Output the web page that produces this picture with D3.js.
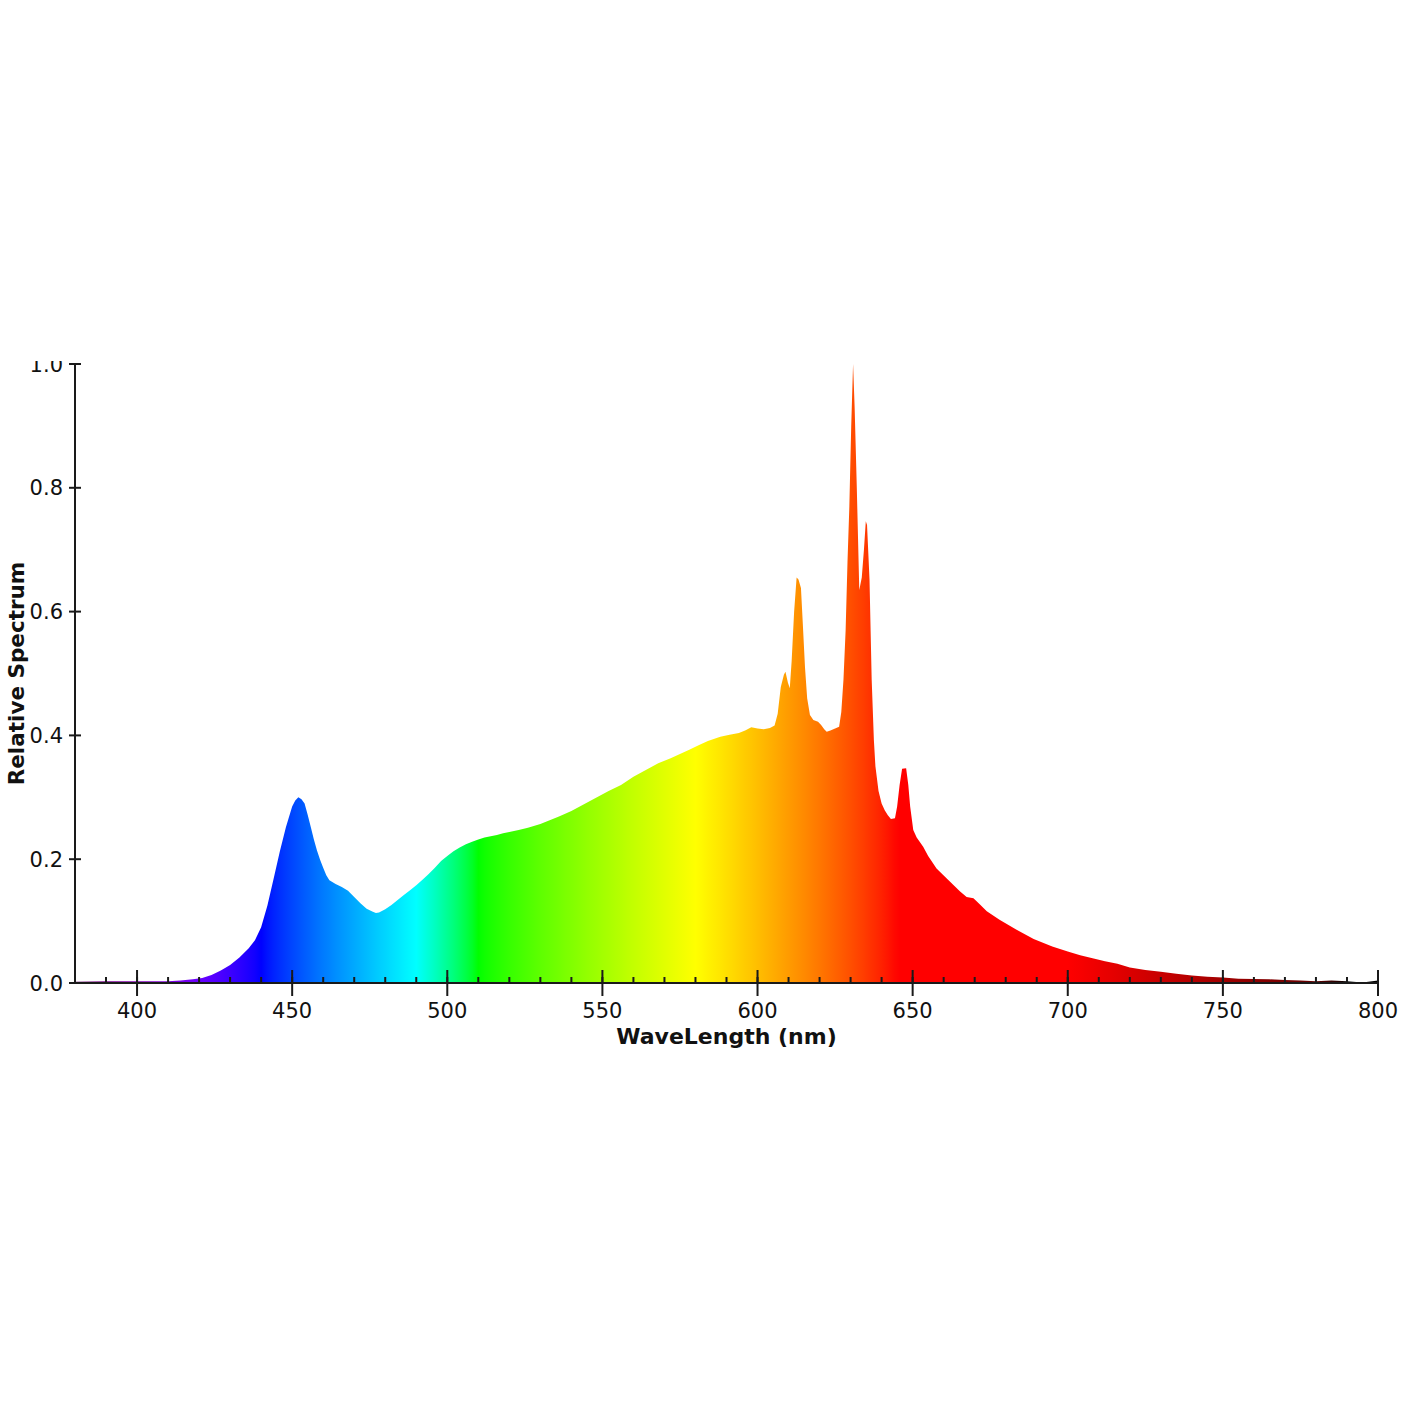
<!DOCTYPE html>
<html>
<head>
<meta charset="utf-8">
<script src="https://cdn.jsdelivr.net/npm/d3@7"></script>
<style>
  html, body { margin: 0; padding: 0; background: #fff; }
  svg { display: block; }
  text { font-family: "DejaVu Sans", Verdana, sans-serif; fill: #111; }
</style>
</head>
<body>
<svg id="chart" width="1420" height="1420"></svg>
<script>
// ---- data ----
const wavelengths = [
  380,385,390,395,400,405,410,414,418,421,424,427,430,433,436,438,440,442,444,446,448,450,451,452,453,454,455,456,457,458,459,460,461,462,464,466,468,470,472,474,476,477,478,480,482,484,486,488,490,492,494,496,498,500,502,504,506,508,510,512,514,516,518,520,523,526,530,533,536,540,543,546,549,552,556,560,564,568,572,575,578,581,584,588,591,594,596,598,600,602,604,605.5,606.5,607.5,608.5,609,609.8,610.4,611,611.8,612.6,613.2,614,614.6,615.3,616,616.9,618,619.5,620.5,621.5,622.3,623.5,625,626.3,627,627.7,628.4,629,629.6,630.2,630.8,631.3,632,632.8,633.6,634.3,634.9,635.3,636.1,636.8,637.5,638,639,640,641,642,643,644.3,645,645.8,646.6,647.9,648.6,649.2,650.2,651.3,653.4,655,657.7,661,665.3,667.4,669.6,671.7,673.9,678,683.5,689,695,700,704,708,712,716,720,725,730,735,740,745,750,755,760,765,770,775,780,785,790,795,800
];
const spectrum = [
  0.002,0.0025,0.003,0.003,0.003,0.003,0.003,0.004,0.006,0.008,0.013,0.020,0.029,0.041,0.056,0.069,0.090,0.125,0.168,0.212,0.252,0.285,0.295,0.300,0.297,0.290,0.272,0.252,0.232,0.214,0.199,0.186,0.174,0.166,0.160,0.155,0.149,0.139,0.129,0.120,0.115,0.113,0.114,0.119,0.126,0.134,0.142,0.150,0.158,0.167,0.176,0.186,0.197,0.205,0.213,0.219,0.224,0.228,0.232,0.235,0.237,0.239,0.242,0.244,0.247,0.251,0.257,0.263,0.269,0.278,0.286,0.294,0.302,0.310,0.320,0.333,0.344,0.355,0.363,0.370,0.377,0.384,0.391,0.398,0.401,0.404,0.408,0.413,0.411,0.410,0.412,0.416,0.435,0.478,0.498,0.503,0.485,0.476,0.520,0.600,0.655,0.652,0.638,0.580,0.510,0.460,0.433,0.425,0.422,0.417,0.410,0.406,0.408,0.411,0.414,0.438,0.490,0.570,0.680,0.770,0.900,1.000,0.930,0.800,0.635,0.655,0.700,0.746,0.740,0.651,0.490,0.393,0.350,0.310,0.290,0.279,0.271,0.265,0.266,0.285,0.320,0.346,0.347,0.320,0.285,0.247,0.235,0.220,0.205,0.185,0.169,0.148,0.139,0.137,0.127,0.116,0.102,0.086,0.071,0.059,0.051,0.045,0.040,0.035,0.031,0.025,0.021,0.018,0.015,0.012,0.010,0.009,0.007,0.0065,0.006,0.005,0.004,0.003,0.004,0.003,0.001,0.004
];
const xTickValues = [400, 450, 500, 550, 600, 650, 700, 750, 800];
const xMinorTickValues = [390,400,410,420,430,440,450,460,470,480,490,500,510,520,530,540,550,560,570,580,590,600,610,620,630,640,650,660,670,680,690,700,710,720,730,740,750,760,770,780,790,800];
const yTickValues = [0.0, 0.2, 0.4, 0.6, 0.8, 1.0];
const xLabel = "WaveLength (nm)";
const yLabel = "Relative Spectrum";

// ---- layout ----
const svg = d3.select("#chart");
const plot = { left: 75, right: 1378, top: 364, bottom: 983 };

const x = d3.scaleLinear().domain([380, 800]).range([plot.left, plot.right]);
const y = d3.scaleLinear().domain([0, 1]).range([plot.bottom, plot.top]);

// wavelength -> colour (visible spectrum approximation)
function waveColor(w) {
  let r = 0, g = 0, b = 0;
  if (w < 440) { r = -(w - 440) / 60; b = 1; }
  else if (w < 490) { g = (w - 440) / 50; b = 1; }
  else if (w < 510) { g = 1; b = -(w - 510) / 20; }
  else if (w < 580) { r = (w - 510) / 70; g = 1; }
  else if (w < 645) { r = 1; g = -(w - 645) / 65; }
  else { r = 1; }
  let f = 1;
  if (w < 420) f = 0.3 + 0.7 * (w - 380) / 40;
  else if (w > 700) f = 0.3 + 0.7 * (780 - w) / 80;
  if (w > 780) f = Math.max(0, 0.3 * (790 - w) / 10);
  const adj = v => v === 0 ? 0 : Math.round(255 * Math.pow(v * f, 0.8));
  return `rgb(${adj(r)},${adj(g)},${adj(b)})`;
}

const defs = svg.append("defs");
const grad = defs.append("linearGradient")
  .attr("id", "spec")
  .attr("gradientUnits", "userSpaceOnUse")
  .attr("x1", x(380)).attr("x2", x(800)).attr("y1", 0).attr("y2", 0);
for (let w = 380; w <= 800; w += 2) {
  grad.append("stop")
    .attr("offset", ((w - 380) / 420 * 100).toFixed(3) + "%")
    .attr("stop-color", waveColor(w));
}

defs.append("clipPath").attr("id", "clip")
  .append("rect").attr("x", 0).attr("y", 361).attr("width", 1420).attr("height", 1059);

const g = svg.append("g").attr("clip-path", "url(#clip)");

const pts = wavelengths.map((w, i) => [w, spectrum[i]]);
const area = d3.area()
  .x(d => x(d[0]))
  .y0(y(0))
  .y1(d => y(d[1]))
  .curve(d3.curveLinear);

g.append("path")
  .datum(pts)
  .attr("d", area)
  .attr("fill", "url(#spec)");

const axisColor = "#1a1a1a";

// x-axis
g.append("line")
  .attr("x1", plot.left - 6).attr("x2", plot.right)
  .attr("y1", y(0)).attr("y2", y(0))
  .attr("stroke", axisColor).attr("stroke-width", 2);

g.selectAll(".xminor").data(xMinorTickValues).enter().append("line")
  .attr("x1", d => x(d)).attr("x2", d => x(d))
  .attr("y1", y(0) - 6).attr("y2", y(0))
  .attr("stroke", axisColor).attr("stroke-width", 2);

g.selectAll(".xmajor").data(xTickValues).enter().append("line")
  .attr("x1", d => x(d)).attr("x2", d => x(d))
  .attr("y1", y(0) - 13).attr("y2", y(0) + 13)
  .attr("stroke", axisColor).attr("stroke-width", 2);

g.selectAll(".xlab").data(xTickValues).enter().append("text")
  .attr("x", d => x(d)).attr("y", y(0) + 35)
  .attr("text-anchor", "middle")
  .attr("font-size", 21)
  .text(d => d3.format("d")(d));

// y-axis
g.append("line")
  .attr("x1", plot.left).attr("x2", plot.left)
  .attr("y1", y(1)).attr("y2", y(0))
  .attr("stroke", axisColor).attr("stroke-width", 2);

g.selectAll(".ytick").data(yTickValues).enter().append("line")
  .attr("x1", plot.left - 6).attr("x2", plot.left + 6)
  .attr("y1", d => y(d)).attr("y2", d => y(d))
  .attr("stroke", axisColor).attr("stroke-width", 2);

g.selectAll(".ylab").data(yTickValues).enter().append("text")
  .attr("x", plot.left - 12).attr("y", d => y(d))
  .attr("dy", "0.36em")
  .attr("text-anchor", "end")
  .attr("font-size", 21)
  .text(d => d3.format(".1f")(d));

// titles
svg.append("text")
  .attr("x", (plot.left + plot.right) / 2).attr("y", 1044)
  .attr("text-anchor", "middle")
  .attr("font-size", 22).attr("font-weight", "bold")
  .text(xLabel);

svg.append("text")
  .attr("transform", `translate(24, ${(plot.top + plot.bottom) / 2}) rotate(-90)`)
  .attr("text-anchor", "middle")
  .attr("font-size", 21.5).attr("font-weight", "bold")
  .text(yLabel);
</script>
</body>
</html>
